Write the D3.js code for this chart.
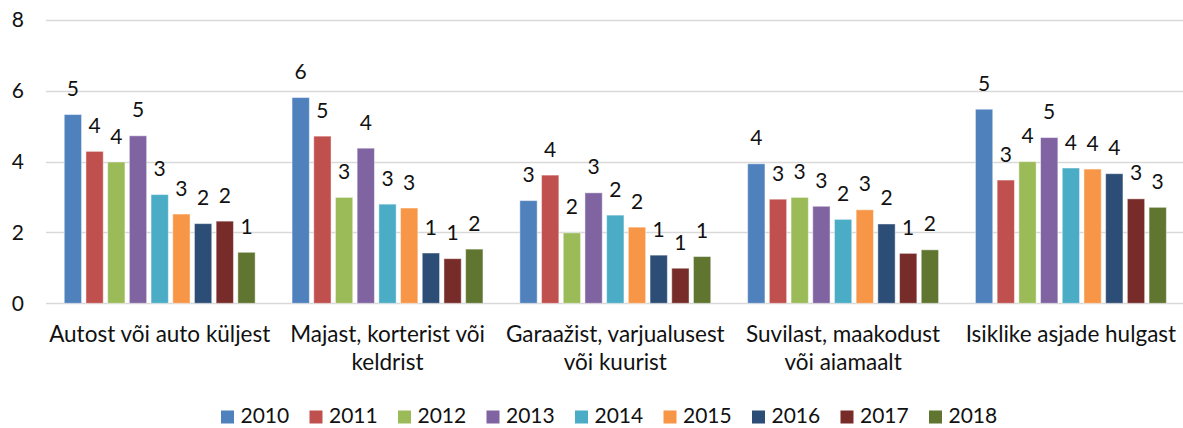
<!DOCTYPE html>
<html>
<head>
<meta charset="utf-8">
<script src="https://cdn.jsdelivr.net/npm/d3@7"></script>
<style>
  html, body { margin: 0; padding: 0; background: #fff; }
  svg { display: block; font-family: Lato, "Open Sans", sans-serif; }
</style>
</head>
<body>
<svg id="chart" width="1183" height="428"></svg>
<script>
const years = ['2010', '2011', '2012', '2013', '2014', '2015', '2016', '2017', '2018'];

// category labels, already split in lines as in the picture
const categories = [
  ['Autost või auto küljest'],
  ['Majast, korterist või', 'keldrist'],
  ['Garaažist, varjualusest', 'või kuurist'],
  ['Suvilast, maakodust', 'või aiamaalt'],
  ['Isiklike asjade hulgast'],
];

// values per category, 2010 .. 2018
const autost = [5.33, 4.29, 3.99, 4.73, 3.07, 2.52, 2.25, 2.32, 1.44];
const majast = [5.81, 4.72, 2.99, 4.38, 2.80, 2.69, 1.42, 1.26, 1.53];
const garaazist = [2.90, 3.62, 1.99, 3.12, 2.49, 2.15, 1.36, 0.99, 1.32];
const suvilast = [3.94, 2.94, 2.99, 2.74, 2.37, 2.64, 2.24, 1.41, 1.51];
const isiklike = [5.48, 3.48, 4.00, 4.68, 3.82, 3.79, 3.66, 2.95, 2.71];

const yTicks = [0, 2, 4, 6, 8];

const colors = ['#4F81BD', '#C0504D', '#9BBB59', '#8064A2', '#4BACC6',
  '#F79646', '#2C4D75', '#772C2A', '#5F7530'];

const seriesByCat = [autost, majast, garaazist, suvilast, isiklike];
const catKeys = categories.map((c) => c.join(' '));

const svg = d3.select('#chart');

const x0 = d3.scaleBand()
  .domain(catKeys)
  .range([45.8, 1184.8])
  .paddingInner(0.162)
  .paddingOuter(0.081);

const x1 = d3.scaleBand()
  .domain(years)
  .range([0, x0.bandwidth()])
  .paddingInner(0.203);

const y = d3.scaleLinear().domain([0, 8]).range([303.3, 20]);

const color = d3.scaleOrdinal().domain(years).range(colors);

// gridlines
svg.append('g')
  .selectAll('line')
  .data(yTicks)
  .join('line')
  .attr('x1', 46)
  .attr('x2', 1183)
  .attr('y1', (d) => Math.round(y(d)) + 0.5)
  .attr('y2', (d) => Math.round(y(d)) + 0.5)
  .attr('stroke', '#d9d9d9')
  .attr('stroke-width', 1.4);

// y axis labels
const yAxis = d3.axisLeft(y).tickValues(yTicks).tickSize(0).tickPadding(0);
svg.append('g')
  .attr('transform', 'translate(24,0)')
  .call(yAxis)
  .call((g) => g.select('.domain').remove())
  .selectAll('text')
  .attr('font-family', 'Lato, "Open Sans", sans-serif')
  .attr('font-size', 21)
  .attr('fill', '#111');

// bars
const groups = svg.append('g')
  .selectAll('g')
  .data(catKeys)
  .join('g')
  .attr('transform', (d) => `translate(${x0(d)},0)`);

const cells = (d, i) => years.map((yr, j) => ({year: yr, value: seriesByCat[i][j]}));

groups.selectAll('rect')
  .data(cells)
  .join('rect')
  .attr('x', (d) => x1(d.year))
  .attr('width', x1.bandwidth())
  .attr('y', (d) => y(d.value))
  .attr('height', (d) => y(0) - y(d.value))
  .attr('fill', (d) => color(d.year))
  .attr('stroke', 'rgba(255,255,255,0.45)')
  .attr('stroke-width', 1);

// value labels (rounded, as in the original)
groups.selectAll('text')
  .data(cells)
  .join('text')
  .attr('x', (d) => x1(d.year) + x1.bandwidth() / 2)
  .attr('y', (d) => y(d.value) - 18.5)
  .attr('text-anchor', 'middle')
  .attr('font-size', 21)
  .attr('fill', '#111')
  .text((d) => d3.format('.0f')(d.value));

// category labels
const xAxis = svg.append('g');
xAxis.selectAll('text')
  .data(categories)
  .join('text')
  .attr('x', (d) => x0(d.join(' ')) + x0.bandwidth() / 2)
  .attr('y', 341.7)
  .attr('text-anchor', 'middle')
  .attr('font-size', 22.5)
  .attr('fill', '#111')
  .selectAll('tspan')
  .data((d) => d.map((line) => ({line, x: x0(d.join(' ')) + x0.bandwidth() / 2})))
  .join('tspan')
  .attr('x', (d) => d.x)
  .attr('dy', (d, i) => (i === 0 ? 0 : 28.5))
  .text((d) => d.line);

// legend
const legendStep = 88.5;
const legend = svg.append('g')
  .selectAll('g')
  .data(years)
  .join('g')
  .attr('transform', (d, i) => `translate(${221 + i * legendStep},0)`);

legend.append('rect')
  .attr('x', 0)
  .attr('y', 410.5)
  .attr('width', 13)
  .attr('height', 13)
  .attr('fill', (d) => color(d));

legend.append('text')
  .attr('x', 19.5)
  .attr('y', 423.3)
  .attr('font-size', 21)
  .attr('fill', '#111')
  .text((d) => d);
</script>
</body>
</html>
